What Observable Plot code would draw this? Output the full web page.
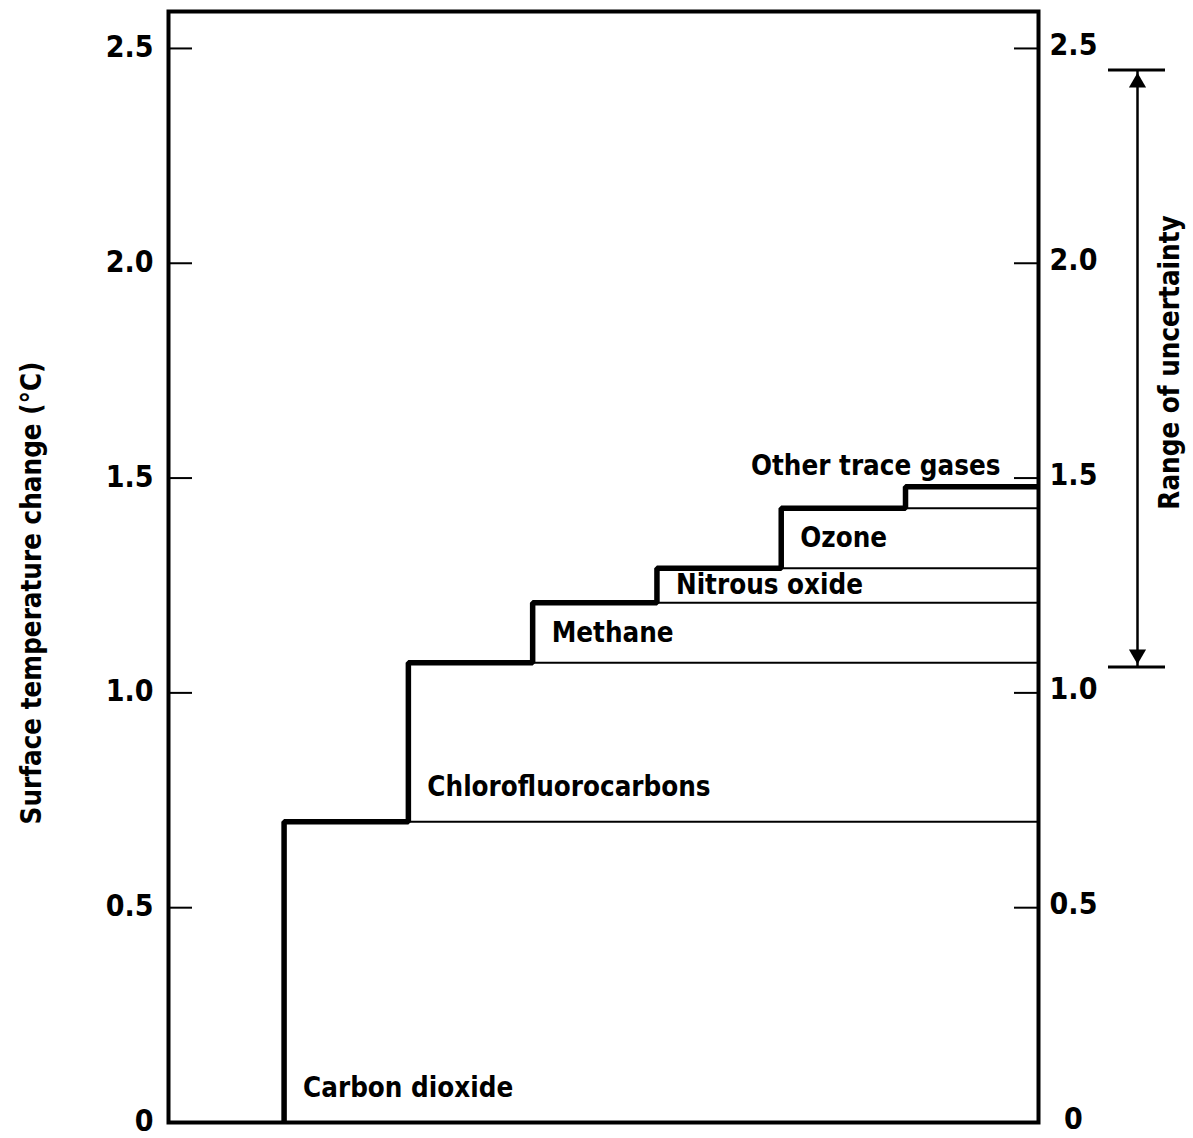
<!DOCTYPE html>
<html>
<head>
<meta charset="utf-8">
<script src="https://cdn.jsdelivr.net/npm/d3@7"></script>
<script src="https://cdn.jsdelivr.net/npm/@observablehq/plot@0.6"></script>
<style>
  html, body { margin: 0; padding: 0; background: #fff; }
</style>
</head>
<body>
<div id="chart"></div>
<script>
// Contribution of each trace gas to surface warming (°C), stacked left to right
const gases = ["Carbon dioxide", "Chlorofluorocarbons", "Methane", "Nitrous oxide", "Ozone", "Other trace gases"];
const warming = [0.70, 0.37, 0.14, 0.08, 0.14, 0.05];

// Range of uncertainty for the total (°C)
const uncertaintyRange = [1.06, 2.45];

// Axis ticks and their labels
const yTicks = [0, 0.5, 1.0, 1.5, 2.0, 2.5];
const yTickLabels = ["0", "0.5", "1.0", "1.5", "2.0", "2.5"];

const font = '"Liberation Sans Narrow", "DejaVu Sans Condensed", "Arial Narrow", sans-serif';

// Cumulative levels: each gas sits on top of the previous ones
const tops = Array.from(d3.cumsum(warming));
const rows = gases.map((gas, i) => ({gas, step: i, base: i ? tops[i - 1] : 0, top: tops[i]}));

const xStart = -0.93;
const xEnd = gases.length + 0.07;

// Staircase outline: rise at each gas, run to the next one
const outline = [];
rows.forEach(r => {
  outline.push({x: r.step, y: r.base});
  outline.push({x: r.step, y: r.top});
});
outline.push({x: xEnd, y: tops[tops.length - 1]});

const innerTicks = yTicks.filter(v => v > 0);
const frameWidth = 1193 - 168 - 155;
const tickLen = 24;

const chart = Plot.plot({
  width: 1193,
  height: 1138,
  marginLeft: 168,
  marginRight: 155,
  marginTop: 11,
  marginBottom: 16,
  x: {domain: [xStart, xEnd], axis: null},
  y: {domain: [0, 2.586], axis: null},
  style: {fontFamily: font, fontWeight: "bold", color: "black", background: "white", overflow: "visible"},
  marks: [
    // thin level lines running to the right edge
    Plot.ruleY(rows.slice(0, -1), {y: "top", x1: d => d.step + 1, x2: xEnd, stroke: "black", strokeWidth: 2}),
    // heavy staircase
    Plot.line(outline, {x: "x", y: "y", stroke: "black", strokeWidth: 5.5, strokeLinejoin: "miter", strokeLinecap: "butt", curve: "linear"}),
    // box
    Plot.frame({stroke: "black", strokeWidth: 4}),
    // inward ticks on both sides
    Plot.tickY(innerTicks, {y: d => d, insetRight: frameWidth - tickLen, stroke: "black", strokeWidth: 2}),
    Plot.tickY(innerTicks, {y: d => d, insetLeft: frameWidth - tickLen, stroke: "black", strokeWidth: 2}),
    // tick labels
    Plot.text(yTicks, {y: d => d, text: (d, i) => yTickLabels[i], frameAnchor: "left", textAnchor: "end", dx: -15, dy: -1, fontSize: 30}),
    Plot.text(yTicks, {y: d => d, text: (d, i) => yTickLabels[i], frameAnchor: "right", textAnchor: "middle", dx: 35, dy: -3, fontSize: 30}),
    // gas labels inside their bands
    Plot.text(rows.slice(0, -1), {
      x: "step",
      y: d => d.base + Math.min((d.top - d.base) / 2, 0.08),
      text: "gas",
      textAnchor: "start",
      dx: 19,
      fontSize: 27.5
    }),
    Plot.text(rows.slice(-1), {x: xEnd, y: "top", text: "gas", textAnchor: "end", dx: -38, dy: -20, fontSize: 27.5}),
    // range of uncertainty arrow
    Plot.ruleX([uncertaintyRange], {x: xEnd, y1: d => d[0], y2: d => d[1], dx: 99, stroke: "black", strokeWidth: 2.5}),
    Plot.ruleY(uncertaintyRange, {y: d => d, x1: xEnd, x2: xEnd, dx: 99, insetLeft: -29, insetRight: -28, stroke: "black", strokeWidth: 3}),
    Plot.dot([uncertaintyRange[1]], {x: xEnd, y: d => d, dx: 99, dy: 12.7, symbol: "triangle2", r: 8.2, fill: "black", stroke: null}),
    Plot.dot([uncertaintyRange[0]], {x: xEnd, y: d => d, dx: 99, dy: -12.7, symbol: "triangle2", r: 8.2, fill: "black", stroke: null, rotate: 180}),
    Plot.text([uncertaintyRange], {x: xEnd, y: d => (d[0] + d[1]) / 2, text: () => "Range of uncertainty", textAnchor: "middle", dx: 132, dy: -6, rotate: -90, fontSize: 27.5}),
    // axis title
    Plot.text(["Surface temperature change (°C)"], {text: d => d, frameAnchor: "left", textAnchor: "middle", dx: -136, dy: 26, rotate: -90, fontSize: 27.5})
  ]
});

document.getElementById("chart").appendChild(chart);
</script>
</body>
</html>
